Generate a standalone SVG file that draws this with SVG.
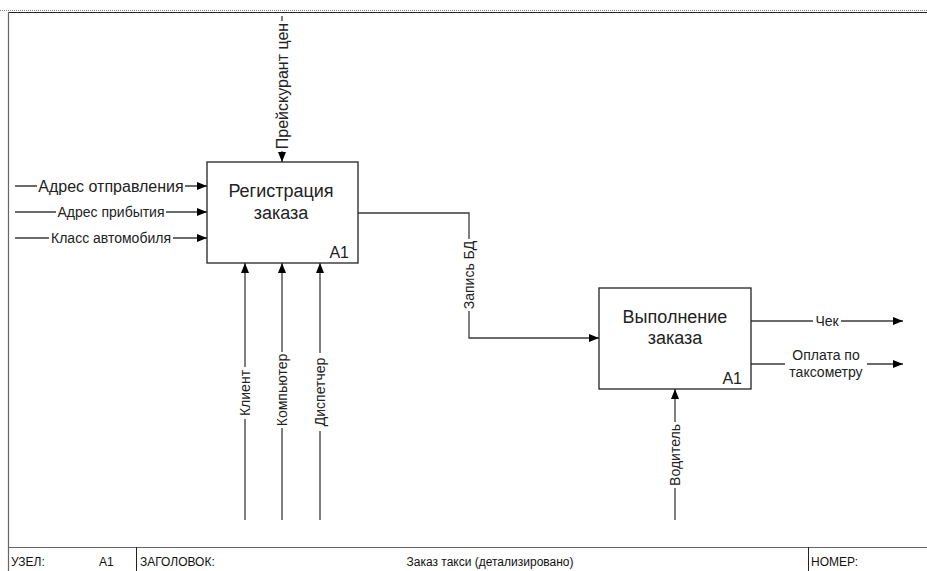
<svg xmlns="http://www.w3.org/2000/svg" width="927" height="571" viewBox="0 0 927 571">
<defs>
<marker id="ar" markerWidth="10" markerHeight="8" refX="10" refY="4" orient="auto" markerUnits="userSpaceOnUse"><path d="M0,0 L10,4 L0,8 Z" fill="#000"/></marker>
<style>
.ln{fill:none;stroke:#3a3a3a;stroke-width:1.3}
.lb{font-family:"Liberation Sans",Arial,sans-serif;font-size:14px;fill:#222}
.lg{font-size:16px}
.bx{fill:#fff;stroke:#222;stroke-width:1.3}
.tt{font-family:"Liberation Sans",Arial,sans-serif;font-size:18px;fill:#222;text-anchor:middle}
.id{font-family:"Liberation Sans",Arial,sans-serif;font-size:16px;fill:#222;text-anchor:end}
.ft{font-family:"Liberation Sans",Arial,sans-serif;font-size:12px;fill:#111}
.bg{fill:#fff}
</style>
</defs>
<rect width="927" height="571" fill="#fff"/>
<g id="frame">
<line x1="0" y1="10.5" x2="927" y2="10.5" stroke="#888" stroke-width="1" stroke-dasharray="1,1"/>
<line x1="8" y1="12.5" x2="927" y2="12.5" stroke="#222" stroke-width="1.2"/>
<line x1="8.5" y1="12" x2="8.5" y2="571" stroke="#666" stroke-width="1.2"/>
<line x1="8" y1="547.5" x2="927" y2="547.5" stroke="#666" stroke-width="1.2"/>
<line x1="136.5" y1="547" x2="136.5" y2="571" stroke="#222" stroke-width="1"/>
<line x1="808.5" y1="547" x2="808.5" y2="571" stroke="#222" stroke-width="1"/>
<text class="ft" x="11" y="566">УЗЕЛ:</text>
<text class="ft" x="99" y="566">A1</text>
<text class="ft" x="140" y="566">ЗАГОЛОВОК:</text>
<text class="ft" x="490" y="566" text-anchor="middle">Заказ такси (детализировано)</text>
<text class="ft" x="811" y="566">НОМЕР:</text>
</g>
<g id="connectors">
<line class="ln" x1="15" y1="186" x2="207" y2="186" marker-end="url(#ar)"/>
<line class="ln" x1="15" y1="212" x2="207" y2="212" marker-end="url(#ar)"/>
<line class="ln" x1="15" y1="238" x2="207" y2="238" marker-end="url(#ar)"/>
<line class="ln" x1="282" y1="16" x2="282" y2="162" marker-end="url(#ar)"/>
<line class="ln" x1="245" y1="520" x2="245" y2="263" marker-end="url(#ar)" stroke="#666"/>
<line class="ln" x1="282" y1="520" x2="282" y2="263" marker-end="url(#ar)" stroke="#000"/>
<line class="ln" x1="320" y1="520" x2="320" y2="263" marker-end="url(#ar)" stroke="#666"/>
<polyline class="ln" points="358,213 469,213 469,338 599,338" marker-end="url(#ar)"/>
<line class="ln" x1="751" y1="321" x2="903" y2="321" marker-end="url(#ar)"/>
<line class="ln" x1="751" y1="364" x2="903" y2="364" marker-end="url(#ar)"/>
<line class="ln" x1="675" y1="520" x2="675" y2="389" marker-end="url(#ar)" stroke="#000"/>
<rect class="bg" x="37" y="178" width="148" height="16"/>
<text class="lb lg" x="111" y="191.5" text-anchor="middle">Адрес отправления</text>
<rect class="bg" x="56" y="205" width="110" height="14"/>
<text class="lb" x="111" y="217" text-anchor="middle">Адрес прибытия</text>
<rect class="bg" x="49" y="231" width="124" height="14"/>
<text class="lb" x="111" y="243" text-anchor="middle">Класс автомобиля</text>
<g transform="translate(287.5,86) rotate(-90)"><rect class="bg" x="-65" y="-12" width="130" height="16"/><text class="lb lg" x="0" y="0" text-anchor="middle">Прейскурант цен</text></g>
<g transform="translate(250,393) rotate(-90)"><rect class="bg" x="-26" y="-11" width="52" height="14"/><text class="lb" x="0" y="0" text-anchor="middle">Клиент</text></g>
<g transform="translate(287,390) rotate(-90)"><rect class="bg" x="-38" y="-11" width="76" height="14"/><text class="lb" x="0" y="0" text-anchor="middle">Компьютер</text></g>
<g transform="translate(325,392) rotate(-90)"><rect class="bg" x="-39" y="-11" width="78" height="14"/><text class="lb" x="0" y="0" text-anchor="middle">Диспетчер</text></g>
<g transform="translate(474,275) rotate(-90)"><rect class="bg" x="-36" y="-11" width="72" height="14"/><text class="lb" x="0" y="0" text-anchor="middle">Запись БД</text></g>
<g transform="translate(680,455) rotate(-90)"><rect class="bg" x="-33" y="-11" width="66" height="14"/><text class="lb" x="0" y="0" text-anchor="middle">Водитель</text></g>
<rect class="bg" x="813" y="314" width="28" height="14"/>
<text class="lb" x="827" y="326" text-anchor="middle">Чек</text>
<rect class="bg" x="785" y="347" width="82" height="34"/>
<text class="lb" x="826" y="360" text-anchor="middle">Оплата по</text>
<text class="lb" x="826" y="377" text-anchor="middle">таксометру</text>
</g>
<g id="node-A1-reg">
<rect class="bx" x="207" y="162" width="151" height="101"/>
<text class="tt" x="281" y="197">Регистрация</text>
<text class="tt" x="281" y="218.5">заказа</text>
<text class="id" x="349" y="258">A1</text>
</g>
<g id="node-A1-exec">
<rect class="bx" x="599" y="288" width="152" height="101"/>
<text class="tt" x="675" y="323">Выполнение</text>
<text class="tt" x="675" y="343.5">заказа</text>
<text class="id" x="742" y="383.5">A1</text>
</g>
</svg>
